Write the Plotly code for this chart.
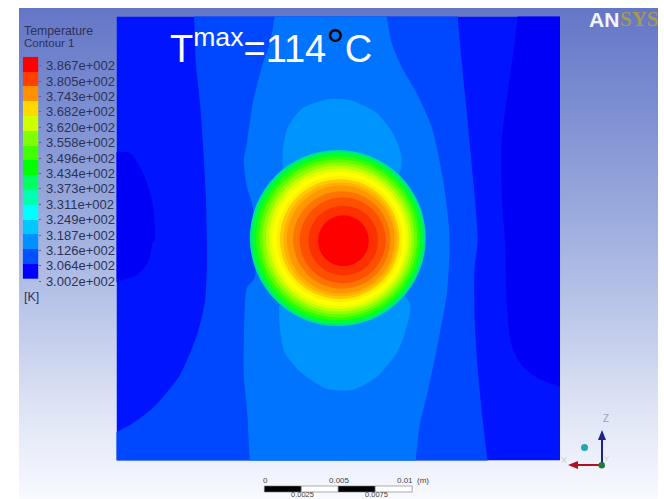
import plotly.graph_objects as go

W, H = 664, 499

# ---- data (positions on the plane in mm) ----
domain_x = [0, 30, 30, 0]
domain_z = [0, 0, 30, 30]

left_lobe_x = [-1.5, 0, 0.91, 1.79, 2.40, 2.60, 2.47, 2.13, 1.39, 0, -1.5]
left_lobe_z = [20.9, 20.84, 20.78, 19.43, 17.60, 14.90, 14.76, 13.41, 12.53, 12.06, 11.6]

right_lobe_x = [27.3, 27.13, 26.93, 26.45, 26.05, 26.11, 26.25, 26.39, 26.72, 27.40, 28.48, 30, 31.5, 31.5]
right_lobe_z = [31.5, 30, 28.21, 24.83, 21.45, 16.93, 15.24, 10.71, 7.80, 6.45, 5.57, 4.97, 4.4, 31.5]

band2_x = [5.1, 5.24, 5.37, 5.69, 6.05, 6.11, 6.11, 5.98, 5.44, 4.29, 2.47, 0.91, 0, -1.5, -1.5, 25.3, 25.10,
           24.76, 24.43, 24.22, 24.22, 24.43, 23.89, 23.68, 23.34, 23.07, 22.9]
band2_z = [31.5, 30, 26.86, 23.68, 17.80, 14.90, 13.01, 10.71, 8.48, 5.78, 3.55, 2.40, 1.93, 1.2, -1.5, -1.5, 0,
           2.87, 6.25, 9.63, 13.01, 14.90, 21.45, 23.68, 27.06, 30, 31.5]

band3_x = [10.9, 10.71, 10.37, 9.83, 9.22, 8.82, 8.61, 8.82, 9.22, 9.36, 8.82, 8.68, 8.61, 8.82, 9.02, 9.1,
           20.1, 20.24, 20.51, 21.05, 21.72, 22.33, 22.53, 22.47, 22.06, 21.32, 20.30, 19.29, 18.61, 18.28, 18.1]
band3_z = [31.5, 30, 28.21, 26.59, 24.16, 21.45, 20.30, 18.48, 17.13, 12.40, 11.66, 10.30, 5.78, 3.55, 0, -1.5,
           -1.5, 0, 2.40, 4.63, 7.80, 11.18, 14.09, 16.05, 19.16, 22.53, 24.83, 26.59, 28.21, 30, 31.5]

top_lobe_x = [11.25, 11.25, 11.59, 12.60, 14.43, 15.77, 17.60, 18.68, 19.22, 19.22, 15]
top_lobe_z = [19.49, 20.98, 22.53, 23.82, 24.43, 24.36, 23.48, 22.13, 20.78, 19.63, 15]

bottom_lobe_x = [10.98, 11.05, 11.39, 12.53, 14.22, 15.98, 17.60, 18.95, 19.63, 19.83, 15]
bottom_lobe_z = [10.44, 9.02, 7.26, 5.91, 4.85, 4.78, 5.64, 7.26, 9.02, 10.64, 15]

ring_cx = [14.97, 14.97, 14.97, 14.98, 15.00, 15.01, 15.03, 15.04, 15.07, 15.09, 15.10, 15.14, 15.17, 15.24, 15.30, 15.34, 15.35]
ring_cz = [15.03, 15.03, 15.03, 15.02, 15.01, 15.00, 14.99, 14.98, 14.97, 14.96, 14.95, 14.94, 14.93, 14.90, 14.88, 14.86, 14.85]
ring_r = [5.95, 5.84, 5.74, 5.54, 5.34, 5.14, 4.93, 4.73, 4.53, 4.26, 4.05, 3.85, 3.65, 3.29, 2.91, 2.36, 1.72]
ring_colors = ["#00e090", "#00f060", "#00ff30", "#30ff00", "#60ff00", "#90ff00", "#c0ff00", "#e8ff00",
               "#ffff00", "#fff000", "#ffc800", "#ffb000", "#ff9800", "#ff7400", "#ff5000", "#ff3000", "#ff0000"]

band_colors = ["#0014ff", "#0000f6", "#0048ff", "#0074ff", "#0094ff"]

legend_values = [300.2, 306.4, 312.6, 318.7, 324.9, 331.1, 337.3, 343.4, 349.6, 355.8, 362.0,
                 368.2, 374.3, 380.5, 386.7]
legend_labels = ["3.002e+002", "3.064e+002", "3.126e+002", "3.187e+002", "3.249e+002", "3.311e+002",
                 "3.373e+002", "3.434e+002", "3.496e+002", "3.558e+002", "3.620e+002", "3.682e+002",
                 "3.743e+002", "3.805e+002", "3.867e+002"]
legend_edges = [301.1, 307.05, 313.0, 318.96, 324.91, 330.86, 336.81, 342.77, 348.72, 354.67,
                360.62, 366.58, 372.53, 378.48, 384.43, 390.4]
legend_colors = ["#0000ff", "#0050ff", "#0090ff", "#00c8ff", "#00ffff", "#00ffb0", "#00ff60", "#00ff00",
                 "#40ff00", "#80ff00", "#d0ff00", "#ffd800", "#ff9000", "#ff4000", "#ff0000"]

backdrop_colors = ["#6476c6", "#7c8ed2", "#98a8dc", "#b8c4e8", "#dce2f4", "#f8faff"]

scale_marks = [10, 12.5, 15, 17.5, 20]
scale_fill = ["#000000", "#ffffff", "#000000", "#ffffff"]

INK = "#2c3358"
FONT = "Liberation Sans"


def px(x):
    return x / W


def py(y):
    return 1 - y / H


fig = go.Figure()

# page backdrop gradient
fig.add_trace(go.Heatmap(
    x=[0, 1], y=list(range(len(backdrop_colors))),
    z=[[i, i] for i in range(len(backdrop_colors))],
    colorscale=[[i / (len(backdrop_colors) - 1), c] for i, c in enumerate(backdrop_colors)],
    zsmooth="best", showscale=False, hoverinfo="skip", xaxis="x", yaxis="y"))

# contour regions
regions = [
    (domain_x, domain_z, band_colors[0], "linear"),
    (left_lobe_x, left_lobe_z, band_colors[1], "spline"),
    (right_lobe_x, right_lobe_z, band_colors[1], "spline"),
    (band2_x, band2_z, band_colors[2], "spline"),
    (band3_x, band3_z, band_colors[3], "spline"),
    (top_lobe_x, top_lobe_z, band_colors[4], "spline"),
    (bottom_lobe_x, bottom_lobe_z, band_colors[4], "spline"),
]
for xs, zs, colour, shape in regions:
    fig.add_trace(go.Scatter(x=xs, y=zs, mode="lines", fill="toself", fillcolor=colour,
                             line=dict(width=0, shape=shape, smoothing=0.7), hoverinfo="skip",
                             xaxis="x2", yaxis="y2"))

# legend strip
fig.add_trace(go.Heatmap(
    x=[0, 1], y=legend_edges, z=[[i] for i in range(len(legend_colors))],
    colorscale=[s for i, c in enumerate(legend_colors)
                for s in ([i / len(legend_colors), c], [(i + 1) / len(legend_colors), c])],
    zmin=-0.5, zmax=len(legend_colors) - 0.5, showscale=False, hoverinfo="skip",
    xaxis="x3", yaxis="y3"))

shapes = []
for cx, cz, r, colour in zip(ring_cx, ring_cz, ring_r, ring_colors):
    shapes.append(dict(type="circle", xref="x2", yref="y2", x0=cx - r, x1=cx + r, y0=cz - r, y1=cz + r,
                       fillcolor=colour, line=dict(width=0), layer="above"))

for a, b, colour in zip(scale_marks[:-1], scale_marks[1:], scale_fill):
    shapes.append(dict(type="rect", xref="x2", yref="paper", x0=a, x1=b, y0=py(492), y1=py(486),
                       fillcolor=colour, line=dict(color="#777777", width=0.6), layer="above"))

# triad
shapes += [
    dict(type="line", xref="paper", yref="paper", x0=px(602), x1=px(602), y0=py(465), y1=py(438),
         line=dict(color="#20208a", width=2), layer="above"),
    dict(type="path", xref="paper", yref="paper",
         path=f"M {px(602)} {py(430)} L {px(598)} {py(440)} L {px(606)} {py(440)} Z",
         fillcolor="#20208a", line=dict(width=0), layer="above"),
    dict(type="line", xref="paper", yref="paper", x0=px(602), x1=px(576), y0=py(465), y1=py(465),
         line=dict(color="#b01020", width=2), layer="above"),
    dict(type="path", xref="paper", yref="paper",
         path=f"M {px(568)} {py(465)} L {px(578)} {py(461)} L {px(578)} {py(469)} Z",
         fillcolor="#b01020", line=dict(width=0), layer="above"),
    dict(type="circle", xref="paper", yref="paper", x0=px(581), x1=px(588), y0=py(451), y1=py(444),
         fillcolor="#20a8b0", line=dict(width=0), layer="above"),
    dict(type="circle", xref="paper", yref="paper", x0=px(598.5), x1=px(605), y0=py(468.5), y1=py(462),
         fillcolor="#1f7a3a", line=dict(width=0), layer="above"),
]


def note(text, x, y, size, colour=INK, xanchor="left", family=FONT, **kw):
    return dict(text=text, x=px(x), y=py(y), xref="paper", yref="paper", showarrow=False,
                xanchor=xanchor, yanchor="middle", font=dict(family=family, size=size, color=colour),
                **kw)


annotations = [
    note("Temperature", 22, 31, 12.3),
    note("Contour 1", 22, 43, 11.5),
    note("[K]", 22, 297, 12.5),
    note('T<sup>max</sup>=114<span style="color:#000000;font-size:46px">°</span>C', 168, 46, 38, "#ffffff"),
    note("<b>AN</b>", 587, 19, 21, "#f4f6ff"),
    note("<b>SYS</b>", 618, 19, 21, "#a49a50", family="Liberation Serif"),
    note("0", 265, 480, 8, "#444444", "center"),
    note("0.005", 339, 480, 8, "#444444", "center"),
    note("0.01", 405, 480, 8, "#444444", "center"),
    note("(m)", 423, 480, 8, "#444444", "center"),
    note("0.0025", 302, 494.5, 7.5, "#444444", "center"),
    note("0.0075", 376, 494.5, 7.5, "#444444", "center"),
    note("Z", 606, 418, 10, "#9aa3bd", "center"),
    note("X", 564, 460, 9, "#d8c8d0", "center"),
    note("Y", 607, 458, 8, "#c8d8c8", "center"),
]

hidden = dict(visible=False, showgrid=False, zeroline=False)
fig.update_layout(
    width=W, height=H + 8, margin=dict(l=0, r=0, t=0, b=0, pad=0), autosize=False,
    paper_bgcolor="#ffffff", plot_bgcolor="rgba(0,0,0,0)", showlegend=False,
    shapes=shapes, annotations=annotations,
    xaxis=dict(domain=[px(19), px(658)], range=[0, 1], **hidden),
    yaxis=dict(domain=[0, py(8)], range=[len(backdrop_colors) - 1, 0], **hidden),
    xaxis2=dict(domain=[px(116.5), px(560)], range=[0, 30], anchor="y2", **hidden),
    yaxis2=dict(domain=[py(460.5), py(16.5)], range=[0, 30], anchor="x2", **hidden),
    xaxis3=dict(domain=[px(22.7), px(38.3)], range=[0, 1], anchor="y3", **hidden),
    yaxis3=dict(domain=[py(281), py(56.7)], range=[300.2, 390.4], anchor="x3", side="right",
                tickmode="array", tickvals=legend_values, ticktext=legend_labels,
                ticks="outside", ticklen=2, tickcolor="#5a6290", ticklabelstandoff=2,
                tickfont=dict(family=FONT, size=13, color=INK),
                showgrid=False, zeroline=False, showline=False),
)

fig.write_html("out.html", config=dict(displayModeBar=False),
               post_script="document.body.style.margin='0';document.body.style.overflow='hidden';")
